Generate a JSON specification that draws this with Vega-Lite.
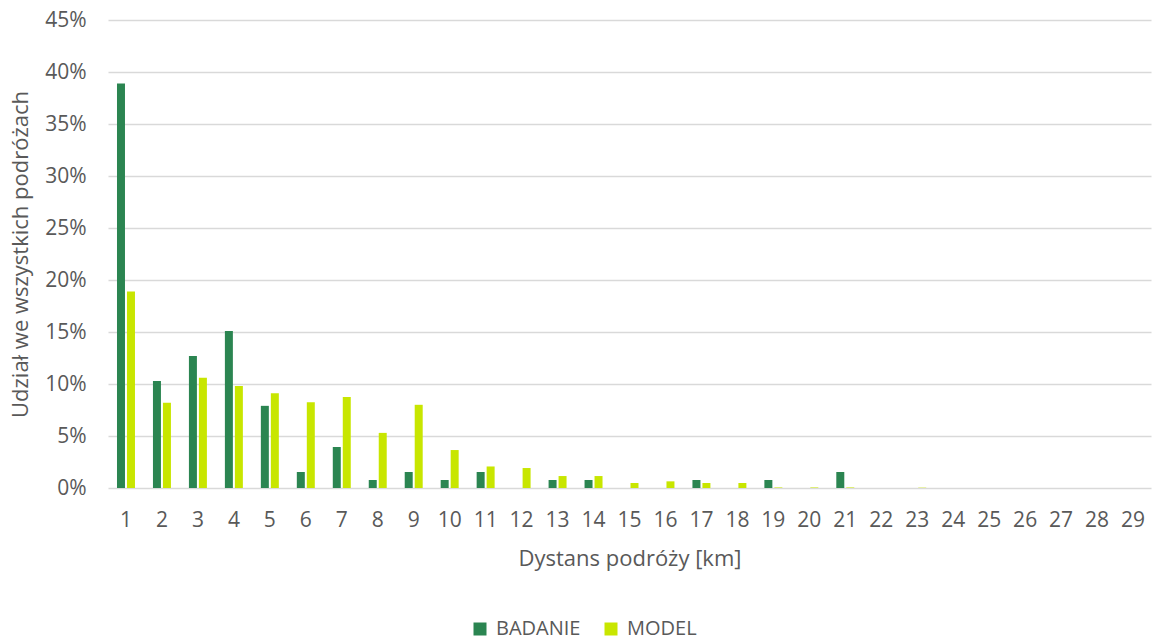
{
  "$schema": "https://vega.github.io/schema/vega-lite/v6.json",
  "width": 1043,
  "height": 468,
  "autosize": {"type": "none"},
  "padding": {"left": 108, "top": 20, "right": 3, "bottom": 153},
  "background": "white",
  "config": {
    "view": {"stroke": null},
    "font": "Open Sans",
    "axis": {"labelFont": "Open Sans", "titleFont": "Open Sans", "labelColor": "#595959", "titleColor": "#595959", "titleFontWeight": "normal"},
    "legend": {"labelFont": "Open Sans", "labelColor": "#595959"}
  },
  "data": {
    "values": [
      {"d": 1, "s": "BADANIE", "v": 0.389}, {"d": 1, "s": "MODEL", "v": 0.189},
      {"d": 2, "s": "BADANIE", "v": 0.103}, {"d": 2, "s": "MODEL", "v": 0.082},
      {"d": 3, "s": "BADANIE", "v": 0.127}, {"d": 3, "s": "MODEL", "v": 0.106},
      {"d": 4, "s": "BADANIE", "v": 0.151}, {"d": 4, "s": "MODEL", "v": 0.098},
      {"d": 5, "s": "BADANIE", "v": 0.079}, {"d": 5, "s": "MODEL", "v": 0.091},
      {"d": 6, "s": "BADANIE", "v": 0.0154}, {"d": 6, "s": "MODEL", "v": 0.0825},
      {"d": 7, "s": "BADANIE", "v": 0.0394}, {"d": 7, "s": "MODEL", "v": 0.0875},
      {"d": 8, "s": "BADANIE", "v": 0.0077}, {"d": 8, "s": "MODEL", "v": 0.053},
      {"d": 9, "s": "BADANIE", "v": 0.0154}, {"d": 9, "s": "MODEL", "v": 0.080},
      {"d": 10, "s": "BADANIE", "v": 0.0077}, {"d": 10, "s": "MODEL", "v": 0.0365},
      {"d": 11, "s": "BADANIE", "v": 0.0154}, {"d": 11, "s": "MODEL", "v": 0.0207},
      {"d": 12, "s": "BADANIE", "v": 0}, {"d": 12, "s": "MODEL", "v": 0.0192},
      {"d": 13, "s": "BADANIE", "v": 0.0077}, {"d": 13, "s": "MODEL", "v": 0.0115},
      {"d": 14, "s": "BADANIE", "v": 0.0077}, {"d": 14, "s": "MODEL", "v": 0.0115},
      {"d": 15, "s": "BADANIE", "v": 0}, {"d": 15, "s": "MODEL", "v": 0.0048},
      {"d": 16, "s": "BADANIE", "v": 0}, {"d": 16, "s": "MODEL", "v": 0.0064},
      {"d": 17, "s": "BADANIE", "v": 0.0077}, {"d": 17, "s": "MODEL", "v": 0.0048},
      {"d": 18, "s": "BADANIE", "v": 0}, {"d": 18, "s": "MODEL", "v": 0.0048},
      {"d": 19, "s": "BADANIE", "v": 0.0077}, {"d": 19, "s": "MODEL", "v": 0.0005},
      {"d": 20, "s": "BADANIE", "v": 0}, {"d": 20, "s": "MODEL", "v": 0.0005},
      {"d": 21, "s": "BADANIE", "v": 0.0154}, {"d": 21, "s": "MODEL", "v": 0.0005},
      {"d": 22, "s": "BADANIE", "v": 0}, {"d": 22, "s": "MODEL", "v": 0},
      {"d": 23, "s": "BADANIE", "v": 0}, {"d": 23, "s": "MODEL", "v": 0.0003},
      {"d": 24, "s": "BADANIE", "v": 0}, {"d": 24, "s": "MODEL", "v": 0},
      {"d": 25, "s": "BADANIE", "v": 0}, {"d": 25, "s": "MODEL", "v": 0},
      {"d": 26, "s": "BADANIE", "v": 0}, {"d": 26, "s": "MODEL", "v": 0},
      {"d": 27, "s": "BADANIE", "v": 0}, {"d": 27, "s": "MODEL", "v": 0},
      {"d": 28, "s": "BADANIE", "v": 0}, {"d": 28, "s": "MODEL", "v": 0},
      {"d": 29, "s": "BADANIE", "v": 0}, {"d": 29, "s": "MODEL", "v": 0}
    ]
  },
  "mark": {"type": "bar"},
  "encoding": {
    "x": {
      "field": "d", "type": "ordinal", "sort": "ascending",
      "scale": {"paddingInner": 0.5, "paddingOuter": 0.25},
      "axis": {
        "title": "Dystans podróży [km]", "titleFontSize": 22, "titlePadding": 18,
        "labelFontSize": 21, "labelAngle": 0, "labelPadding": 21,
        "ticks": false, "domain": false, "grid": false
      }
    },
    "xOffset": {"field": "s", "type": "nominal", "scale": {"paddingInner": 0.2, "paddingOuter": 0}},
    "y": {
      "field": "v", "type": "quantitative",
      "scale": {"domain": [0, 0.45]},
      "axis": {
        "title": "Udział we wszystkich podróżach", "titleFontSize": 22, "titlePadding": 12,
        "format": ".0%", "values": [0, 0.05, 0.1, 0.15, 0.2, 0.25, 0.3, 0.35, 0.4, 0.45],
        "labelFontSize": 21, "labelPadding": 22,
        "ticks": false, "domain": false,
        "grid": true, "gridColor": "#d9d9d9", "gridWidth": 1.3
      }
    },
    "color": {
      "field": "s", "type": "nominal",
      "scale": {"domain": ["BADANIE", "MODEL"], "range": ["#2b8551", "#c8e600"]},
      "legend": {
        "title": null, "orient": "none", "direction": "horizontal",
        "legendX": 362, "legendY": 599,
        "symbolType": "square", "symbolSize": 169, "symbolStrokeWidth": 0,
        "labelFontSize": 20, "columnPadding": 20, "labelOffset": 6
      }
    }
  }
}
